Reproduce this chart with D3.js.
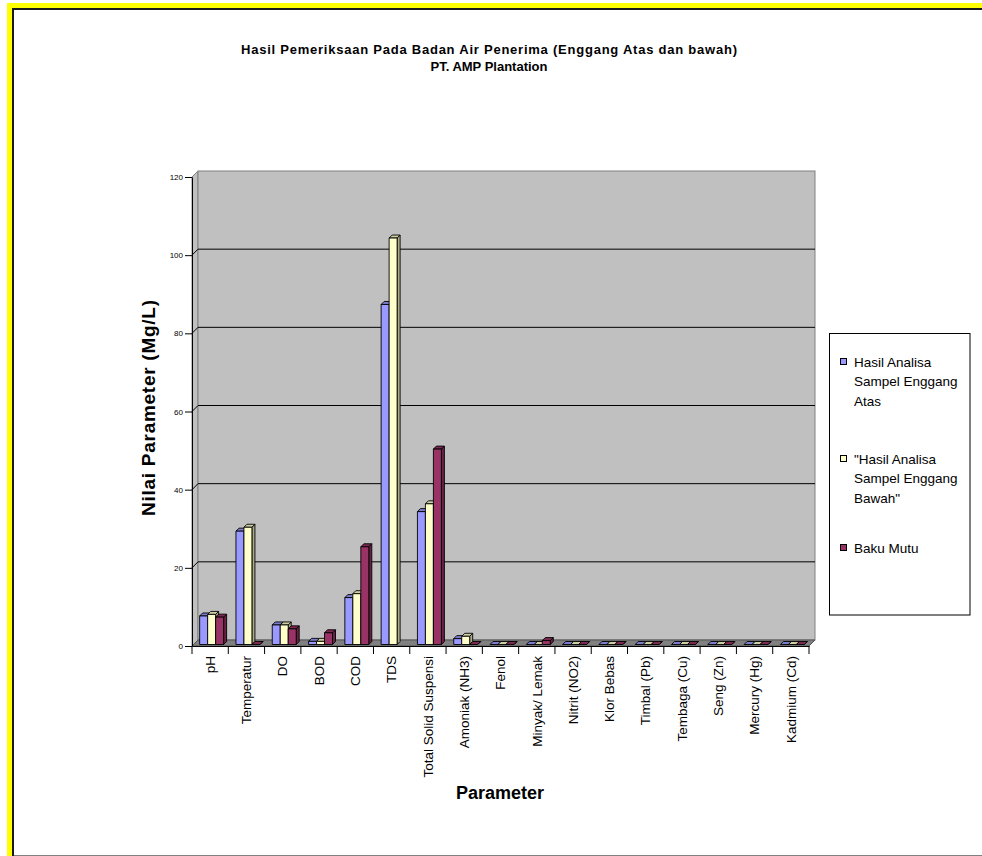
<!DOCTYPE html>
<html><head><meta charset="utf-8">
<script src="https://cdn.jsdelivr.net/npm/d3@7"></script>
<style>html,body{margin:0;padding:0;background:#fff;overflow:hidden;width:982px;height:856px}svg{display:block;position:absolute;left:0;top:0}text{font-family:Arial,"Liberation Sans",sans-serif}</style>
</head><body><svg id="c" width="982" height="856"></svg>
<script>
const categories = ["pH","Temperatur","DO","BOD","COD","TDS","Total Solid Suspensi","Amoniak  (NH3)","Fenol","Minyak/ Lemak","Nitrit (NO2)","Klor Bebas","Timbal (Pb)","Tembaga (Cu)","Seng (Zn)","Mercury (Hg)","Kadmium (Cd)"];
const atas     = [7.3, 29, 5, 0.8, 12, 87, 34, 1.5, 0, 0, 0, 0, 0, 0, 0, 0, 0];
const bawah    = [7.7, 30, 5, 0.8, 13, 104, 36, 2.1, 0, 0, 0, 0, 0, 0, 0, 0, 0];
const bakuMutu = [7, 0, 4, 3, 25, null, 50, 0, 0, 1, 0, 0, 0, 0, 0, 0, 0];
const seriesLabels = [["Hasil Analisa","Sampel Enggang","Atas"],["\"Hasil Analisa","Sampel Enggang","Bawah\""],["Baku Mutu"]];
const seriesColors = ["#9999FF","#FFFFCC","#993366"];
const yTicks = [0,20,40,60,80,100,120];
const titleLines = ["Hasil Pemeriksaan Pada Badan Air Penerima (Enggang Atas dan bawah)","PT. AMP Plantation"];

const series = [atas, bawah, bakuMutu];
const svg = d3.select("#c");

// outer frame (top and left yellow bands only)
svg.append("rect").attr("x",0).attr("y",0).attr("width",982).attr("height",856).attr("fill","#fff");
svg.append("rect").attr("x",7).attr("y",3).attr("width",975).attr("height",6).attr("fill","#FFFF00");
svg.append("rect").attr("x",7).attr("y",3).attr("width",6).attr("height",853).attr("fill","#FFFF00");
svg.append("path").attr("d","M13,856V9H982").attr("fill","none").attr("stroke","#1a1a1a").attr("stroke-width",2);
svg.append("line").attr("x1",14).attr("x2",982).attr("y1",855.5).attr("y2",855.5).attr("stroke","#808080");

// title
svg.append("g").selectAll("text").data(titleLines).join("text")
  .attr("x",489).attr("y",(d,i)=>54+i*16.7).attr("text-anchor","middle")
  .attr("font-size",13).attr("font-weight","bold")
  .attr("textLength",(d,i)=>i===0?496:null).attr("lengthAdjust","spacing")
  .text(d=>d);

// scales
const D = 6;
const y = d3.scaleLinear().domain([0,120]).range([646,177]);
const x = d3.scaleBand().domain(categories).range([192,809]);
const X0 = x.range()[0], X1 = x.range()[1];
const yb = v => y(v) - D;

// walls
const g = svg.append("g");
g.append("polygon").attr("points",[[X0,y(120)],[X0+D,yb(120)],[X0+D,yb(0)],[X0,y(0)]].join(" "))
  .attr("fill","#C0C0C0").attr("stroke","#808080");
g.append("rect").attr("x",X0+D).attr("y",yb(120)).attr("width",X1-X0).attr("height",yb(0)-yb(120))
  .attr("fill","#C0C0C0").attr("stroke","#808080");
// gridlines
yTicks.filter(t=>t>0 && t<120).forEach(t=>{
  g.append("path").attr("d",`M${X0},${y(t)}L${X0+D},${yb(t)}H${X1+D}`).attr("fill","none").attr("stroke","#000");
});
// floor
g.append("polygon").attr("points",[[X0,y(0)],[X0+D,yb(0)],[X1+D,yb(0)],[X1,y(0)]].join(" "))
  .attr("fill","#808080").attr("stroke","#555");

// bars
const bw = x.bandwidth()*0.22, gap = (x.bandwidth()-3*bw)/2, bd = 1.5, dep = 3;
const bars = svg.append("g").attr("stroke","#000").attr("stroke-width",0.9).attr("stroke-linejoin","round");
categories.forEach((c,ci)=>{
  series.forEach((s,si)=>{
    const v = s[ci];
    if (v===null || v===undefined) return;
    const col = d3.color(seriesColors[si]);
    const fx = x(c)+gap+si*bw+bd, fy = y(v)-bd, base = y(0)-bd;
    bars.append("polygon").attr("points",[[fx+bw,fy],[fx+bw+dep,fy-dep],[fx+bw+dep,base-dep],[fx+bw,base]].join(" "))
      .attr("fill",col.darker(1.1).formatHex());
    bars.append("polygon").attr("points",[[fx,fy],[fx+dep,fy-dep],[fx+bw+dep,fy-dep],[fx+bw,fy]].join(" "))
      .attr("fill",col.darker(0.6).formatHex());
    bars.append("rect").attr("x",fx).attr("y",fy).attr("width",bw).attr("height",Math.max(0,base-fy))
      .attr("fill",col.formatHex());
  });
});

// y axis
const ya = svg.append("g").attr("transform",`translate(${X0},0)`)
  .call(d3.axisLeft(y).tickValues(yTicks).tickSize(7).tickPadding(2).tickSizeOuter(0));
ya.select(".domain").attr("stroke","#000");
ya.selectAll(".tick line").attr("stroke","#000");
ya.selectAll("text").attr("font-size",8).attr("font-family","Arial, 'Liberation Sans', sans-serif").attr("fill","#000");

// x axis
const xa = svg.append("g").attr("transform",`translate(0,${y(0)})`)
  .call(d3.axisBottom(x).tickSize(0).tickPadding(0).tickSizeOuter(0));
xa.select(".domain").attr("stroke","#000");
xa.selectAll(".tick text").attr("font-size",13.5).attr("font-family","Arial, 'Liberation Sans', sans-serif").attr("fill","#000")
  .attr("text-anchor","end").attr("transform","rotate(-90)").attr("x",-10).attr("y",0).attr("dy","0.35em");
xa.selectAll(".boundary").data(categories.map(c=>x(c)).concat([X1])).join("line").attr("class","boundary")
  .attr("x1",d=>d).attr("x2",d=>d).attr("y1",0).attr("y2",8).attr("stroke","#000");
svg.append("line").attr("x1",X1).attr("y1",y(0)).attr("x2",X1+D).attr("y2",yb(0)).attr("stroke","#555");

// axis titles
svg.append("text").attr("transform","translate(155,408) rotate(-90)").attr("text-anchor","middle")
  .attr("font-size",19).attr("font-weight","bold").attr("textLength",216).attr("lengthAdjust","spacing")
  .text("Nilai Parameter (Mg/L)");
svg.append("text").attr("x",500).attr("y",799).attr("text-anchor","middle")
  .attr("font-size",18).attr("font-weight","bold").text("Parameter");

// legend
const lg = svg.append("g");
lg.append("rect").attr("x",829.5).attr("y",333.5).attr("width",140.5).attr("height",281.5).attr("fill","#fff").attr("stroke","#000");
const legendBase = [366.5, 463.5, 552.5];
seriesLabels.forEach((lines,i)=>{
  lg.append("rect").attr("x",840.5).attr("y",legendBase[i]-8).attr("width",6).attr("height",6)
    .attr("fill",seriesColors[i]).attr("stroke","#000");
  lg.append("g").selectAll("text").data(lines).join("text").attr("x",854).attr("y",(d,j)=>legendBase[i]+j*19.5)
    .attr("font-size",13.5).text(d=>d);
});
</script></body></html>
